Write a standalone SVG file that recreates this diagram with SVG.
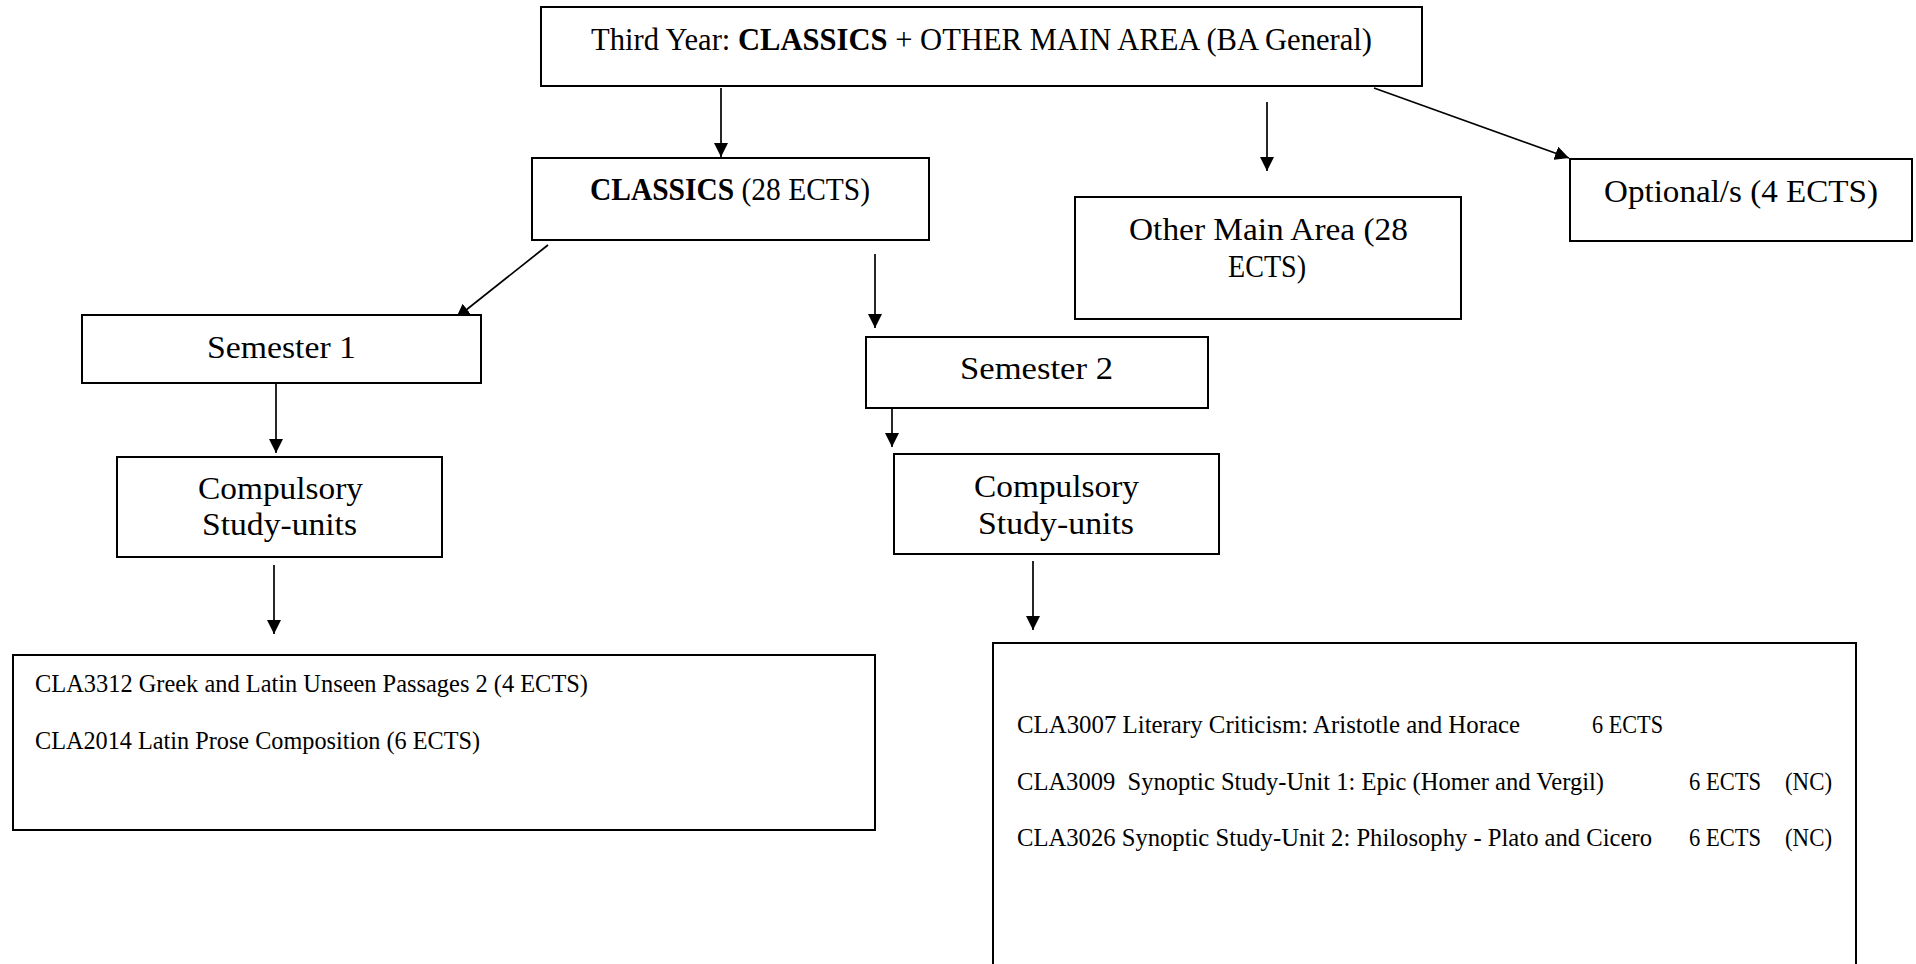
<svg xmlns="http://www.w3.org/2000/svg" width="1916" height="964" viewBox="0 0 1916 964">
<style>
.box{fill:#fff;stroke:#000;stroke-width:2}
.conn{stroke:#000;stroke-width:1.7;fill:none;marker-end:url(#ah)}
.h{font-family:"Liberation Serif",serif;font-size:31px;fill:#000}
.l{font-family:"Liberation Serif",serif;font-size:24.5px;fill:#000;white-space:pre}
.b{font-weight:bold}
</style>
<defs>
<marker id="ah" viewBox="0 0 14 14" refX="14" refY="7" markerWidth="14" markerHeight="14" markerUnits="userSpaceOnUse" orient="auto">
<path d="M0,0 L14,7 L0,14 z" fill="#000"/>
</marker>
</defs>
<rect width="1916" height="964" fill="#fff"/>
<g id="connectors">
<line class="conn" x1="721" y1="88" x2="721" y2="157"/>
<line class="conn" x1="1267" y1="102" x2="1267" y2="171"/>
<line class="conn" x1="1374" y1="88" x2="1569" y2="158"/>
<line class="conn" x1="548" y1="245" x2="456" y2="318"/>
<line class="conn" x1="875" y1="254" x2="875" y2="328"/>
<line class="conn" x1="276" y1="384" x2="276" y2="453"/>
<line class="conn" x1="892" y1="409" x2="892" y2="447"/>
<line class="conn" x1="274" y1="565" x2="274" y2="634"/>
<line class="conn" x1="1033" y1="561" x2="1033" y2="630"/>
</g>
<g id="top">
<rect class="box" x="541" y="7" width="881" height="79"/>
<text class="h" x="591" y="50" textLength="781" lengthAdjust="spacingAndGlyphs">Third Year: <tspan class="b">CLASSICS</tspan> + OTHER MAIN AREA (BA General)</text>
</g>
<g id="classics">
<rect class="box" x="532" y="158" width="397" height="82"/>
<text class="h" x="590" y="200" textLength="280" lengthAdjust="spacingAndGlyphs"><tspan class="b">CLASSICS</tspan> (28 ECTS)</text>
</g>
<g id="other">
<rect class="box" x="1075" y="197" width="386" height="122"/>
<text class="h" x="1129" y="240" textLength="279" lengthAdjust="spacingAndGlyphs">Other Main Area (28</text>
<text class="h" x="1228" y="277" textLength="78" lengthAdjust="spacingAndGlyphs">ECTS)</text>
</g>
<g id="optional">
<rect class="box" x="1570" y="159" width="342" height="82"/>
<text class="h" x="1604" y="202" textLength="274" lengthAdjust="spacingAndGlyphs">Optional/s (4 ECTS)</text>
</g>
<g id="sem1">
<rect class="box" x="82" y="315" width="399" height="68"/>
<text class="h" x="207" y="358" textLength="149" lengthAdjust="spacingAndGlyphs">Semester 1</text>
</g>
<g id="sem2">
<rect class="box" x="866" y="337" width="342" height="71"/>
<text class="h" x="960" y="379" textLength="153" lengthAdjust="spacingAndGlyphs">Semester 2</text>
</g>
<g id="comp1">
<rect class="box" x="117" y="457" width="325" height="100"/>
<text class="h" x="198" y="499" textLength="165" lengthAdjust="spacingAndGlyphs">Compulsory</text>
<text class="h" x="202" y="535" textLength="155" lengthAdjust="spacingAndGlyphs">Study-units</text>
</g>
<g id="comp2">
<rect class="box" x="894" y="454" width="325" height="100"/>
<text class="h" x="974" y="497" textLength="165" lengthAdjust="spacingAndGlyphs">Compulsory</text>
<text class="h" x="978" y="534" textLength="156" lengthAdjust="spacingAndGlyphs">Study-units</text>
</g>
<g id="list1">
<rect class="box" x="13" y="655" width="862" height="175"/>
<text class="l" x="35" y="692" textLength="553" lengthAdjust="spacingAndGlyphs">CLA3312 Greek and Latin Unseen Passages 2 (4 ECTS)</text>
<text class="l" x="35" y="749" textLength="445" lengthAdjust="spacingAndGlyphs">CLA2014 Latin Prose Composition (6 ECTS)</text>
</g>
<g id="list2">
<rect class="box" x="993" y="643" width="863" height="340"/>
<text class="l" x="1017" y="733" textLength="503" lengthAdjust="spacingAndGlyphs">CLA3007 Literary Criticism: Aristotle and Horace</text>
<text class="l" x="1592" y="733" textLength="71" lengthAdjust="spacingAndGlyphs">6 ECTS</text>
<text class="l" x="1017" y="790" textLength="587" lengthAdjust="spacingAndGlyphs">CLA3009  Synoptic Study-Unit 1: Epic (Homer and Vergil)</text>
<text class="l" x="1689" y="790" textLength="72" lengthAdjust="spacingAndGlyphs">6 ECTS</text>
<text class="l" x="1785" y="790" textLength="47" lengthAdjust="spacingAndGlyphs">(NC)</text>
<text class="l" x="1017" y="846" textLength="635" lengthAdjust="spacingAndGlyphs">CLA3026 Synoptic Study-Unit 2: Philosophy - Plato and Cicero</text>
<text class="l" x="1689" y="846" textLength="72" lengthAdjust="spacingAndGlyphs">6 ECTS</text>
<text class="l" x="1785" y="846" textLength="47" lengthAdjust="spacingAndGlyphs">(NC)</text>
</g>
</svg>
